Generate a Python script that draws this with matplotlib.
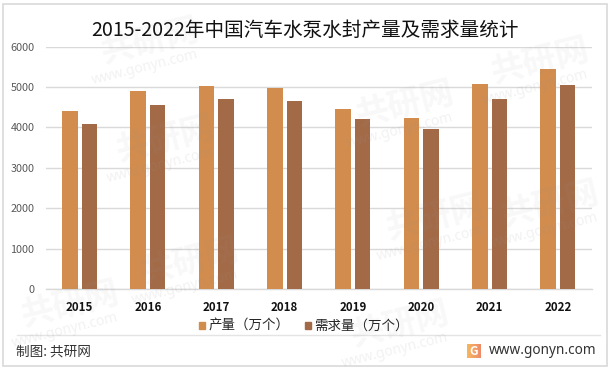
import matplotlib
matplotlib.use("Agg")
import matplotlib.pyplot as plt
import numpy as np
from matplotlib.colors import LinearSegmentedColormap
from matplotlib.patches import Rectangle
from matplotlib.lines import Line2D

plt.rcParams["font.family"] = ["Noto Sans CJK SC", "DejaVu Sans"]

W, H = 612, 371

years = ["2015", "2016", "2017", "2018", "2019", "2020", "2021", "2022"]
output = [4405, 4900, 5025, 4975, 4455, 4232, 5074, 5445]
demand = [4084, 4554, 4703, 4653, 4208, 3960, 4703, 5050]
yticks = [0, 1000, 2000, 3000, 4000, 5000, 6000]

title = "2015-2022年中国汽车水泵水封产量及需求量统计"
names = ["产量（万个）", "需求量（万个）"]
color_a = "#D18C4E"
color_b = "#A36A47"
grid_c = "#D9D9D9"


def fx(px):
    return px / W


def fy(py):
    return 1 - py / H


fig = plt.figure(figsize=(W / 100, H / 100), dpi=100, facecolor="white")

# outer frame and footer rule
fig.add_artist(Rectangle((fx(2.5), fy(366)), fx(604.5), 362.5 / H, transform=fig.transFigure,
                         fill=False, ec="#D9D9D9", lw=1.2))
fig.add_artist(Line2D([fx(17), fx(600)], [fy(335), fy(335)], color="#E4E4E4", lw=1.0))

# plot area
ax = fig.add_axes([fx(45.5), fy(289), fx(546.5), 242.5 / H])
x = np.arange(len(years))
ax.bar(x - 0.143, output, width=0.227, color=color_a, zorder=3)
ax.bar(x + 0.143, demand, width=0.227, color=color_b, zorder=3)
ax.set_xlim(-0.5, 7.5)
ax.set_ylim(0, 6000)
ax.set_yticks(yticks)
ax.set_xticks(x)
ax.set_xticklabels(years, fontsize=8.3, fontweight="bold", color="#111111")
ax.tick_params(axis="x", length=0, pad=8.5)
ax.tick_params(axis="y", length=0, pad=8, labelsize=7.8, labelcolor="#595959")
ax.grid(axis="y", color=grid_c, lw=1.0, zorder=0)
ax.set_axisbelow(True)
for s in ["top", "right", "left"]:
    ax.spines[s].set_visible(False)
ax.spines["bottom"].set_color(grid_c)
ax.spines["bottom"].set_linewidth(1.0)
ax.patch.set_alpha(0)

fig.text(fx(305), fy(30), title, fontsize=14.1, color="#111111", ha="center", va="center")

# legend
handles = [Rectangle((0, 0), 1, 1, color=color_a), Rectangle((0, 0), 1, 1, color=color_b)]
fig.legend(handles, names, ncol=2, frameon=False, fontsize=9.7, labelcolor="#262626",
           loc="center", bbox_to_anchor=(fx(304), fy(326)), handlelength=0.42, handleheight=0.42,
           handletextpad=0.25, columnspacing=1.2, borderpad=0)

# footer
fig.text(fx(16), fy(352), "制图: 共研网", fontsize=9.8, color="#333333", va="center")
fig.text(fx(489), fy(351), "www.gonyn.com", fontsize=9.8, color="#333333", va="center", family="Noto Sans")

# small logo with a gradient
logo = fig.add_axes([fx(467), fy(358), fx(14), 14 / H])
cmap = LinearSegmentedColormap.from_list("logo", ["#F6B860", "#EE8A68"])
logo.imshow(np.linspace(0, 1, 32).reshape(1, -1), aspect="auto", cmap=cmap)
logo.axis("off")
fig.text(fx(474), fy(351.5), "G", fontsize=8.5, fontweight="bold", color="white", ha="center", va="center")

# faint watermarks
marks = [(150, 42), (165, 140), (190, 262), (70, 305), (405, 105), (435, 218),
         (540, 62), (550, 205), (400, 325)]
for mx, my in marks:
    fig.text(fx(mx), fy(my), "共研网", fontsize=24, fontweight="bold", color="#999999", alpha=0.07,
             rotation=14, ha="center", va="center")
    fig.text(fx(mx - 5), fy(my + 26), "www.gonyn.com", fontsize=10, color="#999999", alpha=0.13,
             rotation=14, ha="center", va="center", family="Noto Sans")

fig.savefig("out.png", dpi=100)
